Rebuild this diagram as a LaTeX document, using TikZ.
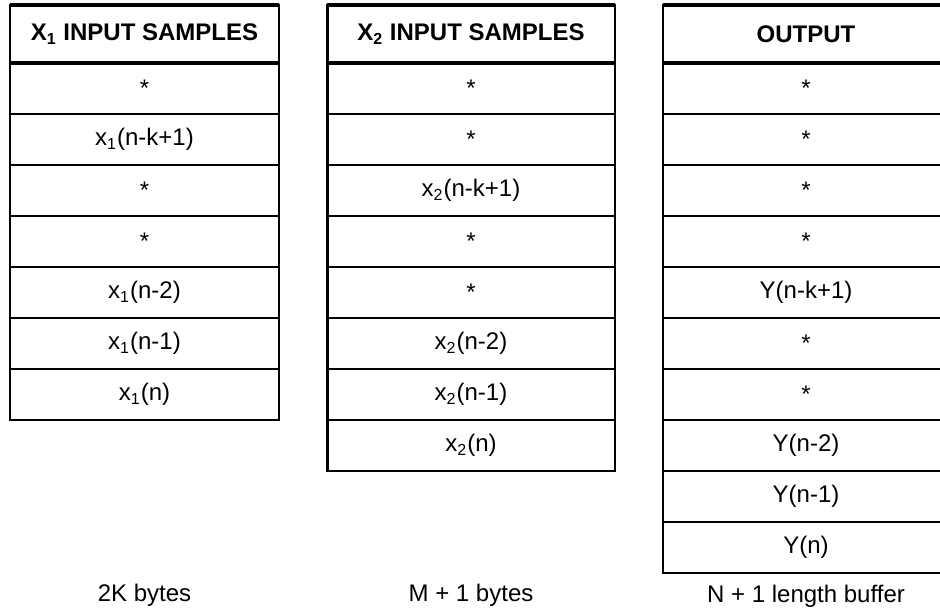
\documentclass[tikz,border=0pt]{standalone}
\usepackage{fontspec}
\setmainfont{Liberation Sans}
\begin{document}
\begin{tikzpicture}[x=0.5pt, y=-0.5pt,
  cell/.style={draw, line width=1.1pt, inner sep=0pt, outer sep=0pt,
    minimum height=25.5pt, font=\fontsize{12}{14}\selectfont},
  head/.style={cell, minimum height=29pt, font=\fontsize{12}{14}\selectfont\bfseries},
  heavyline/.style={line width=2.4pt},
  sizelabel/.style={font=\fontsize{12}{14}\selectfont}]
\useasboundingbox (0,0) rectangle (940,609);

% x1 buffer
\node[head, minimum width=134.5pt] (ha) at (144.5,34) {X\textsubscript{1} INPUT SAMPLES};
\foreach \txt [count=\i] in {*, x\textsubscript{1}(n-k+1), *, *,
    x\textsubscript{1}(n-2), x\textsubscript{1}(n-1), x\textsubscript{1}(n)}
  \node[cell, minimum width=134.5pt] (a\i) at (144.5,{37.5+51*\i}) {\txt};

% x2 buffer
\node[head, minimum width=143.6pt] (hb) at (471,34) {X\textsubscript{2} INPUT SAMPLES};
\foreach \txt [count=\i] in {*, *, x\textsubscript{2}(n-k+1), *, *,
    x\textsubscript{2}(n-2), x\textsubscript{2}(n-1), x\textsubscript{2}(n)}
  \node[cell, minimum width=143.6pt] (b\i) at (471,{37.5+51*\i}) {\txt};

% output buffer
\node[head, minimum width=143pt] (hc) at (806,34) {OUTPUT};
\foreach \txt [count=\i] in {*, *, *, *, Y(n-k+1), *, *, Y(n-2), Y(n-1), Y(n)}
  \node[cell, minimum width=143pt] (c\i) at (806,{37.5+51*\i}) {\txt};

% heavy rules round the headers
\foreach \h in {ha, hb, hc} {
  \draw[heavyline] (\h.north west) -- (\h.north east);
  \draw[heavyline] (\h.south west) -- (\h.south east);
}

\node[sizelabel] (la) at (144.5,595) {2K bytes};
\node[sizelabel] (lb) at (471,595) {M + 1 bytes};
\node[sizelabel] (lc) at (806,596) {N + 1 length buffer};
\end{tikzpicture}
\end{document}
